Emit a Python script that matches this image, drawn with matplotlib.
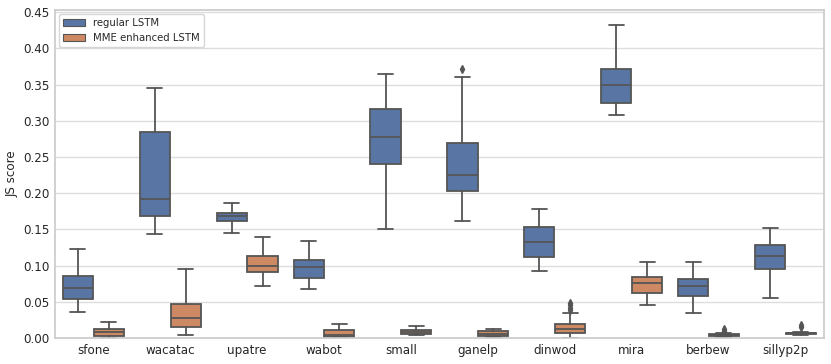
import matplotlib
matplotlib.use("Agg")
import matplotlib.pyplot as plt
import seaborn as sns
from matplotlib.patches import Patch

sns.set_theme(style="whitegrid")
plt.rcParams['font.family'] = ['DejaVu Sans']

categories = ["sfone", "wacatac", "upatre", "wabot", "small", "ganelp",
              "dinwod", "mira", "berbew", "sillyp2p"]
series_names = ["regular LSTM", "MME enhanced LSTM"]

# regular LSTM stats: whislo, q1, med, q3, whishi
reg_lo  = [0.036, 0.144, 0.145, 0.068, 0.150, 0.162, 0.092, 0.308, 0.034, 0.055]
reg_q1  = [0.054, 0.169, 0.161, 0.083, 0.240, 0.203, 0.112, 0.325, 0.058, 0.096]
reg_med = [0.069, 0.192, 0.169, 0.098, 0.278, 0.225, 0.133, 0.350, 0.072, 0.113]
reg_q3  = [0.085, 0.284, 0.173, 0.108, 0.316, 0.269, 0.154, 0.371, 0.082, 0.128]
reg_hi  = [0.123, 0.345, 0.187, 0.134, 0.365, 0.360, 0.178, 0.432, 0.105, 0.152]
reg_fl  = [[], [], [], [], [], [0.371], [], [], [], []]

# MME enhanced LSTM stats
mme_lo  = [0.0005, 0.0037, 0.072, 0.001, 0.004, 0.0014, 0.0005, 0.0456, 0.0015, 0.0048]
mme_q1  = [0.0032, 0.0148, 0.091, 0.0018, 0.005, 0.0032, 0.0065, 0.0617, 0.0025, 0.0056]
mme_med = [0.0079, 0.0272, 0.100, 0.004, 0.0083, 0.0062, 0.012, 0.0755, 0.0035, 0.0065]
mme_q3  = [0.0124, 0.0465, 0.113, 0.011, 0.011, 0.0092, 0.0189, 0.0846, 0.005, 0.0075]
mme_hi  = [0.0225, 0.0948, 0.140, 0.0193, 0.017, 0.0128, 0.034, 0.105, 0.0068, 0.0085]
mme_fl  = [[], [], [], [], [], [], [0.039, 0.042, 0.045, 0.048], [], [0.009, 0.012], [0.015, 0.018]]

pal = sns.color_palette("deep")
colors = [sns.desaturate(pal[0], 0.75), sns.desaturate(pal[1], 0.75)]
line_c = "#555555"
lw = 1.3

fig = plt.figure(figsize=(8.31, 3.64), dpi=100)
ax = fig.add_axes([0.066, 0.0714, 0.9255, 0.901])

def make_stats(lo, q1, med, q3, hi, fl):
    return [dict(whislo=a, q1=b, med=c, q3=d, whishi=e, fliers=f)
            for a, b, c, d, e, f in zip(lo, q1, med, q3, hi, fl)]

sets = [make_stats(reg_lo, reg_q1, reg_med, reg_q3, reg_hi, reg_fl),
        make_stats(mme_lo, mme_q1, mme_med, mme_q3, mme_hi, mme_fl)]
offsets = [-0.2, 0.2]
for k in range(2):
    pos = [i + offsets[k] for i in range(len(categories))]
    ax.bxp(sets[k], positions=pos, widths=0.392, patch_artist=True,
           boxprops=dict(facecolor=colors[k], edgecolor=line_c, linewidth=lw),
           whiskerprops=dict(color=line_c, linewidth=lw),
           capprops=dict(color=line_c, linewidth=lw),
           medianprops=dict(color=line_c, linewidth=lw),
           flierprops=dict(marker='d', markerfacecolor=line_c, markeredgecolor=line_c,
                           markersize=4),
           showfliers=True, manage_ticks=False)

ax.set_xticks(range(len(categories)))
ax.set_xticklabels(categories, fontsize=8.6)
ax.set_xlim(-0.5, len(categories) - 0.5)
ax.set_ylim(0, 0.453)
ax.set_yticks([0.0, 0.05, 0.10, 0.15, 0.20, 0.25, 0.30, 0.35, 0.40, 0.45])
ax.set_yticklabels(["0.00", "0.05", "0.10", "0.15", "0.20", "0.25", "0.30",
                    "0.35", "0.40", "0.45"], fontsize=8.6)
ax.set_ylabel("JS score", fontsize=8.6, labelpad=3)
ax.xaxis.grid(False)
ax.grid(axis='y', color='#dddddd', linewidth=1.0)
for s in ax.spines.values():
    s.set_color('#cccccc')
ax.tick_params(axis='both', length=0, pad=4)

handles = [Patch(facecolor=colors[k], edgecolor=line_c, linewidth=0.8, label=series_names[k])
           for k in range(2)]
ax.legend(handles=handles, loc="upper left", fontsize=7.3, frameon=True,
          handlelength=2.2, handleheight=0.7, borderaxespad=0.4)

fig.savefig("out.png", dpi=100)
